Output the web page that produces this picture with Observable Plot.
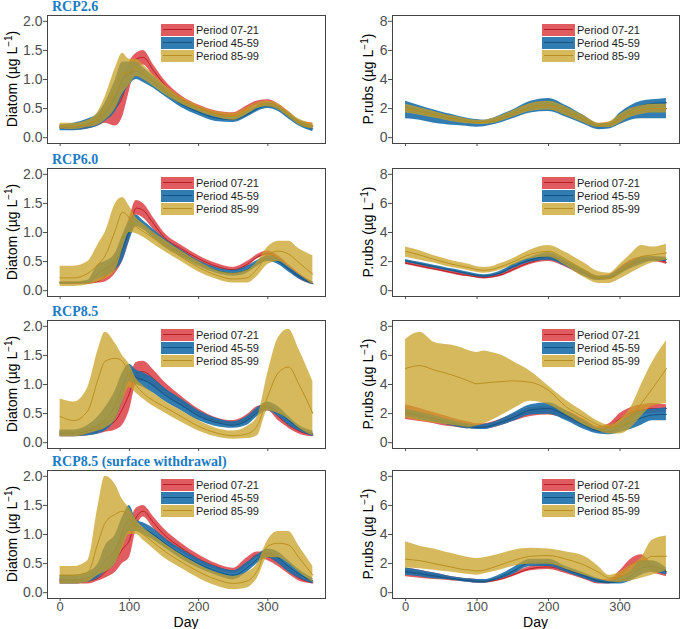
<!DOCTYPE html>
<html><head><meta charset="utf-8">
<script src="https://cdn.jsdelivr.net/npm/d3@7"></script>
<script src="https://cdn.jsdelivr.net/npm/@observablehq/plot@0.6"></script>
<style>
body{margin:0;background:#fff;}
#chart{position:relative;width:685px;height:629px;font-family:"Liberation Sans",Arial,sans-serif;overflow:hidden;}
.panel{position:absolute;}
.title{position:absolute;font-family:"Liberation Serif","Times New Roman",serif;font-weight:bold;font-size:14px;color:#1B7BC3;line-height:14px;white-space:nowrap;}
.legend{position:absolute;font-size:11px;color:#1a1a1a;}
.lrow{display:flex;align-items:center;height:13px;}
.sw{position:relative;width:33px;height:12px;margin-right:2px;}
.sw i{position:absolute;left:2px;right:2px;top:5.5px;height:1px;}
</style></head>
<body><div id="chart"></div>
<script>
// ---- day grid (shared by all series) ----
const days = [0,20,40,55,65,80,90,100,110,120,135,150,175,200,225,250,270,285,300,315,330,345,365];
const periods = ["Period 07-21","Period 45-59","Period 85-99"];
const titles = ["RCP2.6","RCP6.0","RCP8.5","RCP8.5 (surface withdrawal)"];
const diatomTicks = [0,0.5,1,1.5,2];
const prubsTicks = [0,2,4,6,8];
const dayTicks = [0,100,200,300];

// ---- RCP2.6 Diatom ----
const dia26_a_lo  = [0.15,0.13,0.15,0.2,0.25,0.2,0.35,0.8,1.2,1.25,1.05,0.85,0.62,0.48,0.38,0.35,0.45,0.55,0.56,0.5,0.35,0.22,0.15];
const dia26_a_mid = [0.18,0.16,0.2,0.28,0.38,0.5,0.7,1.1,1.35,1.38,1.15,0.92,0.67,0.52,0.42,0.39,0.5,0.59,0.6,0.54,0.4,0.26,0.2];
const dia26_a_hi  = [0.22,0.2,0.25,0.38,0.5,0.75,1.0,1.3,1.45,1.5,1.25,1.0,0.72,0.56,0.46,0.43,0.55,0.63,0.65,0.58,0.45,0.3,0.25];
const dia26_b_lo  = [0.12,0.12,0.15,0.2,0.28,0.45,0.7,0.9,1.0,0.95,0.85,0.72,0.52,0.38,0.28,0.26,0.35,0.45,0.5,0.45,0.32,0.2,0.1];
const dia26_b_mid = [0.17,0.18,0.22,0.3,0.42,0.7,1.0,1.1,1.15,1.08,0.95,0.8,0.58,0.44,0.34,0.31,0.4,0.5,0.55,0.5,0.37,0.25,0.15];
const dia26_b_hi  = [0.22,0.25,0.32,0.42,0.6,1.0,1.3,1.3,1.3,1.2,1.05,0.88,0.65,0.5,0.4,0.36,0.45,0.55,0.6,0.55,0.42,0.3,0.2];
const dia26_c_lo  = [0.15,0.14,0.18,0.22,0.3,0.5,0.75,0.9,1.05,1.0,0.88,0.75,0.58,0.45,0.35,0.3,0.4,0.5,0.53,0.48,0.35,0.22,0.15];
const dia26_c_mid = [0.2,0.2,0.24,0.33,0.5,0.85,1.1,1.12,1.2,1.12,0.98,0.83,0.64,0.5,0.4,0.36,0.46,0.55,0.58,0.53,0.4,0.27,0.2];
const dia26_c_hi  = [0.25,0.25,0.3,0.45,0.7,1.2,1.45,1.35,1.35,1.25,1.08,0.92,0.7,0.55,0.45,0.42,0.52,0.6,0.63,0.58,0.45,0.32,0.25];

// ---- RCP2.6 P.rubs ----
const pr26_a_lo  = [1.8,1.6,1.4,1.25,1.15,1.05,1.0,0.95,0.95,1.0,1.2,1.45,1.85,1.95,1.55,1.05,0.72,0.75,1.05,1.45,1.65,1.75,1.75];
const pr26_a_mid = [2.0,1.8,1.57,1.4,1.3,1.17,1.1,1.05,1.05,1.12,1.35,1.62,2.07,2.2,1.8,1.25,0.85,0.9,1.3,1.7,1.9,2.0,2.0];
const pr26_a_hi  = [2.2,2.0,1.75,1.55,1.45,1.3,1.2,1.15,1.15,1.25,1.5,1.8,2.3,2.45,2.05,1.45,0.98,1.05,1.55,1.95,2.15,2.25,2.25];
const pr26_b_lo  = [1.3,1.2,1.0,0.9,0.85,0.8,0.75,0.72,0.75,0.85,1.05,1.3,1.7,1.8,1.4,0.9,0.55,0.6,0.9,1.2,1.3,1.3,1.3];
const pr26_b_mid = [2.1,1.85,1.6,1.45,1.35,1.2,1.1,1.05,1.05,1.1,1.35,1.6,2.1,2.25,1.8,1.2,0.75,0.85,1.4,1.9,2.2,2.35,2.4];
const pr26_b_hi  = [2.5,2.2,1.9,1.7,1.6,1.4,1.3,1.25,1.2,1.3,1.6,1.9,2.5,2.7,2.2,1.5,0.95,1.0,1.7,2.2,2.5,2.6,2.7];
const pr26_c_lo  = [1.7,1.55,1.35,1.2,1.1,1.0,0.95,0.9,0.9,0.95,1.15,1.4,1.8,1.9,1.5,1.0,0.7,0.7,1.0,1.4,1.6,1.7,1.7];
const pr26_c_mid = [2.0,1.8,1.57,1.4,1.3,1.17,1.1,1.05,1.05,1.12,1.35,1.62,2.07,2.2,1.8,1.25,0.85,0.9,1.3,1.7,1.9,2.0,2.0];
const pr26_c_hi  = [2.3,2.05,1.8,1.6,1.5,1.35,1.25,1.2,1.2,1.3,1.55,1.85,2.35,2.5,2.1,1.5,1.0,1.1,1.6,2.0,2.2,2.3,2.3];

// ---- RCP6.0 Diatom ----
const dia60_a_lo  = [0.12,0.12,0.12,0.13,0.15,0.3,0.5,0.85,1.3,1.25,1.05,0.85,0.65,0.5,0.38,0.33,0.4,0.55,0.6,0.5,0.35,0.2,0.1];
const dia60_a_mid = [0.13,0.13,0.13,0.16,0.25,0.45,0.7,1.05,1.42,1.38,1.15,0.92,0.72,0.55,0.42,0.36,0.45,0.58,0.64,0.55,0.4,0.25,0.12];
const dia60_a_hi  = [0.15,0.15,0.15,0.2,0.35,0.6,0.9,1.25,1.55,1.5,1.25,1.0,0.78,0.6,0.47,0.4,0.5,0.62,0.68,0.6,0.45,0.3,0.15];
const dia60_b_lo  = [0.12,0.12,0.12,0.2,0.25,0.35,0.5,0.85,1.1,1.05,0.9,0.75,0.58,0.42,0.3,0.25,0.3,0.42,0.5,0.45,0.32,0.2,0.1];
const dia60_b_mid = [0.13,0.13,0.15,0.3,0.38,0.5,0.72,1.02,1.2,1.12,0.98,0.82,0.64,0.47,0.35,0.3,0.36,0.47,0.55,0.5,0.37,0.24,0.12];
const dia60_b_hi  = [0.15,0.15,0.18,0.45,0.5,0.65,0.95,1.2,1.3,1.2,1.05,0.9,0.7,0.52,0.4,0.35,0.42,0.52,0.6,0.55,0.42,0.28,0.15];
const dia60_c_lo  = [0.07,0.07,0.1,0.15,0.2,0.35,0.7,1.0,0.98,0.92,0.8,0.68,0.5,0.32,0.2,0.13,0.13,0.25,0.45,0.5,0.4,0.28,0.1];
const dia60_c_mid = [0.22,0.22,0.3,0.45,0.6,1.05,1.35,1.25,1.1,1.02,0.9,0.78,0.58,0.4,0.27,0.2,0.22,0.38,0.62,0.68,0.63,0.48,0.28];
const dia60_c_hi  = [0.42,0.42,0.5,0.8,1.0,1.5,1.6,1.45,1.25,1.15,1.0,0.88,0.68,0.5,0.35,0.3,0.35,0.5,0.75,0.85,0.85,0.72,0.6];

// ---- RCP6.0 P.rubs ----
const pr60_a_lo  = [1.8,1.6,1.4,1.25,1.15,1.0,0.95,0.85,0.8,0.85,1.0,1.3,1.8,2.0,1.6,1.0,0.7,0.8,1.2,1.6,1.9,2.0,1.8];
const pr60_a_mid = [1.9,1.7,1.5,1.35,1.25,1.1,1.02,0.95,0.9,0.95,1.12,1.45,1.95,2.2,1.8,1.2,0.85,0.95,1.4,1.85,2.1,2.15,1.95];
const pr60_a_hi  = [2.0,1.8,1.6,1.45,1.35,1.2,1.1,1.05,1.0,1.05,1.25,1.6,2.1,2.4,2.0,1.4,1.0,1.1,1.6,2.1,2.3,2.3,2.1];
const pr60_b_lo  = [1.95,1.75,1.55,1.4,1.3,1.15,1.05,0.95,0.9,0.95,1.15,1.5,1.95,2.1,1.65,1.0,0.7,0.75,1.1,1.5,1.8,2.0,2.0];
const pr60_b_mid = [2.05,1.85,1.65,1.5,1.4,1.25,1.15,1.05,1.0,1.05,1.27,1.65,2.12,2.35,1.87,1.22,0.85,0.9,1.3,1.75,2.05,2.17,2.15];
const pr60_b_hi  = [2.15,1.95,1.75,1.6,1.5,1.35,1.25,1.15,1.1,1.15,1.4,1.8,2.3,2.6,2.1,1.45,1.0,1.05,1.5,2.0,2.3,2.35,2.3];
const pr60_c_lo  = [2.3,2.1,1.9,1.7,1.6,1.45,1.35,1.25,1.2,1.25,1.45,1.75,2.2,2.3,1.7,0.9,0.5,0.5,0.8,1.2,1.6,1.9,2.1];
const pr60_c_mid = [2.7,2.45,2.15,1.95,1.82,1.67,1.57,1.45,1.4,1.45,1.67,1.97,2.5,2.7,2.15,1.4,0.9,0.85,1.3,1.85,2.35,2.45,2.6];
const pr60_c_hi  = [3.0,2.75,2.4,2.2,2.05,1.9,1.8,1.65,1.6,1.65,1.9,2.2,2.8,3.1,2.6,1.9,1.3,1.2,1.8,2.5,3.1,3.0,3.2];

// ---- RCP8.5 Diatom ----
const dia85_a_lo  = [0.1,0.1,0.12,0.15,0.18,0.22,0.3,0.55,1.0,1.05,0.95,0.82,0.62,0.45,0.33,0.3,0.35,0.5,0.55,0.38,0.25,0.15,0.1];
const dia85_a_mid = [0.15,0.15,0.18,0.22,0.28,0.38,0.58,0.85,1.2,1.22,1.1,0.93,0.71,0.51,0.38,0.34,0.42,0.56,0.6,0.45,0.3,0.2,0.13];
const dia85_a_hi  = [0.2,0.2,0.25,0.3,0.38,0.55,0.85,1.1,1.38,1.4,1.25,1.05,0.8,0.58,0.43,0.38,0.48,0.62,0.65,0.52,0.35,0.25,0.16];
const dia85_b_lo  = [0.1,0.1,0.12,0.15,0.2,0.4,0.7,1.05,1.0,0.95,0.85,0.72,0.55,0.38,0.28,0.25,0.3,0.45,0.55,0.45,0.3,0.2,0.1];
const dia85_b_mid = [0.16,0.16,0.2,0.3,0.4,0.65,0.95,1.2,1.12,1.08,0.98,0.83,0.65,0.46,0.35,0.3,0.38,0.52,0.62,0.53,0.38,0.25,0.15];
const dia85_b_hi  = [0.22,0.22,0.3,0.45,0.6,0.9,1.2,1.35,1.25,1.2,1.1,0.95,0.75,0.55,0.42,0.36,0.45,0.6,0.7,0.62,0.45,0.3,0.2];
const dia85_c_lo  = [0.1,0.1,0.15,0.2,0.25,0.4,0.7,0.95,0.85,0.75,0.62,0.52,0.35,0.2,0.1,0.06,0.07,0.12,0.55,0.5,0.4,0.25,0.12];
const dia85_c_mid = [0.45,0.38,0.55,1.1,1.4,1.45,1.4,1.15,0.98,0.85,0.72,0.62,0.45,0.28,0.17,0.12,0.15,0.3,0.8,1.2,1.3,1.0,0.5];
const dia85_c_hi  = [0.75,0.7,0.95,1.6,1.9,1.7,1.5,1.35,1.1,0.98,0.85,0.72,0.55,0.38,0.25,0.2,0.28,0.45,1.2,1.8,1.95,1.6,1.05];

// ---- RCP8.5 P.rubs ----
const pr85_a_lo  = [1.6,1.45,1.3,1.15,1.1,1.0,0.95,0.95,0.95,1.0,1.2,1.45,1.8,1.9,1.6,1.1,0.75,0.9,1.3,1.7,1.9,2.0,2.1];
const pr85_a_mid = [2.1,1.9,1.67,1.5,1.4,1.25,1.17,1.12,1.12,1.2,1.42,1.7,2.1,2.2,1.9,1.35,0.92,1.1,1.65,2.05,2.25,2.35,2.35];
const pr85_a_hi  = [2.6,2.35,2.05,1.85,1.7,1.5,1.4,1.3,1.3,1.4,1.65,1.95,2.4,2.5,2.2,1.6,1.1,1.3,2.0,2.4,2.6,2.7,2.6];
const pr85_b_lo  = [1.8,1.6,1.4,1.25,1.15,1.0,0.95,0.9,0.9,1.0,1.2,1.45,1.9,1.95,1.5,0.9,0.6,0.55,0.7,0.9,1.2,1.5,1.5];
const pr85_b_mid = [2.05,1.85,1.62,1.45,1.35,1.17,1.1,1.05,1.07,1.17,1.42,1.72,2.25,2.35,1.85,1.2,0.8,0.75,1.05,1.4,1.7,1.9,1.95];
const pr85_b_hi  = [2.3,2.1,1.85,1.65,1.55,1.35,1.25,1.2,1.25,1.35,1.65,2.0,2.6,2.75,2.2,1.5,1.0,0.95,1.4,1.9,2.2,2.3,2.4];
const pr85_c_lo  = [1.7,1.5,1.35,1.25,1.2,1.1,1.05,1.15,1.3,1.5,1.9,2.3,2.85,2.6,1.9,1.2,0.8,0.6,0.6,1.0,1.8,2.5,2.7];
const pr85_c_mid = [5.1,5.3,5.0,4.8,4.65,4.4,4.2,4.05,4.1,4.15,4.2,4.25,4.15,3.6,2.45,1.75,1.2,1.05,1.2,1.6,2.7,3.7,5.1];
const pr85_c_hi  = [7.1,7.6,6.9,6.75,6.7,6.5,6.3,6.2,6.3,6.2,6.0,5.6,4.9,3.9,2.9,2.1,1.45,1.2,1.6,2.4,4.0,5.5,7.0];

// ---- RCP8.5 (surface withdrawal) Diatom ----
const dia85s_a_lo  = [0.15,0.15,0.15,0.2,0.25,0.35,0.5,0.6,1.1,1.3,1.1,0.9,0.7,0.52,0.4,0.33,0.45,0.6,0.55,0.45,0.32,0.2,0.15];
const dia85s_a_mid = [0.2,0.18,0.2,0.25,0.35,0.55,0.75,0.9,1.3,1.4,1.2,1.0,0.77,0.58,0.45,0.37,0.52,0.65,0.62,0.52,0.38,0.25,0.17];
const dia85s_a_hi  = [0.25,0.22,0.25,0.3,0.45,0.75,1.0,1.2,1.45,1.5,1.3,1.1,0.85,0.65,0.5,0.42,0.6,0.7,0.7,0.6,0.45,0.3,0.2];
const dia85s_b_lo  = [0.15,0.15,0.18,0.25,0.35,0.5,0.8,1.05,1.05,1.0,0.9,0.78,0.58,0.42,0.3,0.22,0.35,0.5,0.6,0.5,0.35,0.25,0.15];
const dia85s_b_mid = [0.22,0.22,0.26,0.37,0.55,0.75,1.05,1.25,1.15,1.1,1.0,0.86,0.66,0.5,0.37,0.3,0.43,0.58,0.68,0.6,0.45,0.32,0.2];
const dia85s_b_hi  = [0.3,0.3,0.35,0.5,0.8,1.0,1.3,1.5,1.25,1.2,1.1,0.95,0.75,0.58,0.45,0.38,0.52,0.65,0.75,0.7,0.55,0.4,0.25];
const dia85s_c_lo  = [0.15,0.15,0.18,0.3,0.35,0.5,0.75,1.0,1.0,0.9,0.75,0.6,0.42,0.25,0.12,0.05,0.08,0.25,0.6,0.6,0.5,0.35,0.18];
const dia85s_c_mid = [0.3,0.3,0.35,0.87,1.2,1.35,1.4,1.3,1.1,1.0,0.86,0.72,0.53,0.36,0.23,0.16,0.2,0.38,0.8,0.85,0.82,0.6,0.3];
const dia85s_c_hi  = [0.45,0.45,0.55,1.5,2.0,1.85,1.6,1.45,1.25,1.12,0.98,0.85,0.65,0.48,0.35,0.28,0.35,0.5,0.9,1.05,1.05,0.8,0.45];

// ---- RCP8.5 (surface withdrawal) P.rubs ----
const pr85s_a_lo  = [1.1,1.0,0.9,0.85,0.8,0.75,0.7,0.65,0.65,0.7,0.85,1.1,1.5,1.6,1.3,0.9,0.6,0.6,0.9,1.5,1.8,1.4,1.1];
const pr85s_a_mid = [1.4,1.27,1.12,1.02,0.95,0.87,0.82,0.77,0.75,0.8,0.97,1.22,1.65,1.77,1.47,1.07,0.75,0.75,1.2,1.9,2.2,1.7,1.35];
const pr85s_a_hi  = [1.7,1.55,1.35,1.2,1.1,1.0,0.95,0.9,0.85,0.9,1.1,1.35,1.8,1.95,1.65,1.25,0.9,0.9,1.5,2.3,2.6,2.0,1.6];
const pr85s_b_lo  = [1.2,1.1,0.95,0.9,0.85,0.75,0.7,0.65,0.65,0.75,0.95,1.25,1.8,1.8,1.4,0.95,0.65,0.6,0.6,0.8,1.2,1.4,1.2];
const pr85s_b_mid = [1.45,1.32,1.15,1.05,0.97,0.87,0.82,0.77,0.77,0.87,1.12,1.47,2.05,2.05,1.6,1.15,0.8,0.7,0.8,1.15,1.7,1.8,1.45];
const pr85s_b_hi  = [1.7,1.55,1.35,1.2,1.1,1.0,0.95,0.9,0.9,1.0,1.3,1.7,2.3,2.3,1.8,1.35,0.95,0.8,1.0,1.5,2.2,2.2,1.7];
const pr85s_c_lo  = [1.7,1.65,1.55,1.45,1.4,1.3,1.25,1.2,1.3,1.4,1.6,1.8,1.95,1.95,1.6,1.2,0.9,0.75,0.7,0.8,1.0,1.2,1.5];
const pr85s_c_mid = [2.3,2.2,2.0,1.85,1.75,1.6,1.55,1.5,1.55,1.7,1.95,2.2,2.5,2.55,2.3,1.9,1.4,1.0,1.1,1.4,2.0,2.5,2.5];
const pr85s_c_hi  = [3.5,3.2,3.0,2.8,2.7,2.5,2.4,2.35,2.4,2.5,2.7,2.9,3.05,3.0,2.8,2.5,1.8,1.2,1.4,1.9,2.4,3.6,3.9];

// ---- styling ----
const fills = ["#D7262B","#1B6FA8","#C9A227"];
const fillOps = [0.75,0.9,0.75];
const lineCols = ["#B81E25","#14537F","#B8901F"];

const panels = [
  {row:0,col:0,kind:"d",s:[[dia26_a_lo,dia26_a_mid,dia26_a_hi],[dia26_b_lo,dia26_b_mid,dia26_b_hi],[dia26_c_lo,dia26_c_mid,dia26_c_hi]]},
  {row:0,col:1,kind:"p",s:[[pr26_a_lo,pr26_a_mid,pr26_a_hi],[pr26_b_lo,pr26_b_mid,pr26_b_hi],[pr26_c_lo,pr26_c_mid,pr26_c_hi]]},
  {row:1,col:0,kind:"d",s:[[dia60_a_lo,dia60_a_mid,dia60_a_hi],[dia60_b_lo,dia60_b_mid,dia60_b_hi],[dia60_c_lo,dia60_c_mid,dia60_c_hi]]},
  {row:1,col:1,kind:"p",s:[[pr60_a_lo,pr60_a_mid,pr60_a_hi],[pr60_b_lo,pr60_b_mid,pr60_b_hi],[pr60_c_lo,pr60_c_mid,pr60_c_hi]]},
  {row:2,col:0,kind:"d",s:[[dia85_a_lo,dia85_a_mid,dia85_a_hi],[dia85_b_lo,dia85_b_mid,dia85_b_hi],[dia85_c_lo,dia85_c_mid,dia85_c_hi]]},
  {row:2,col:1,kind:"p",s:[[pr85_a_lo,pr85_a_mid,pr85_a_hi],[pr85_b_lo,pr85_b_mid,pr85_b_hi],[pr85_c_lo,pr85_c_mid,pr85_c_hi]]},
  {row:3,col:0,kind:"d",s:[[dia85s_a_lo,dia85s_a_mid,dia85s_a_hi],[dia85s_b_lo,dia85s_b_mid,dia85s_b_hi],[dia85s_c_lo,dia85s_c_mid,dia85s_c_hi]]},
  {row:3,col:1,kind:"p",s:[[pr85s_a_lo,pr85s_a_mid,pr85s_a_hi],[pr85s_b_lo,pr85s_b_mid,pr85s_b_hi],[pr85s_c_lo,pr85s_c_mid,pr85s_c_hi]]}
];

const frameTops = [15,168,320,470];
const FH = 128, MT = 6;
const root = document.getElementById("chart");

function band(lo, mid, hi){ return days.map((d,i)=>({day:d, lo:lo[i], mid:mid[i], hi:hi[i]})); }

// titles
titles.forEach((t,r)=>{
  const el = document.createElement("div");
  el.className = "title";
  el.textContent = t;
  el.style.left = "52px";
  el.style.top = (frameTops[r]-15)+"px";
  root.appendChild(el);
});

panels.forEach(p=>{
  const left = p.col===0;
  const W = left ? 342 : 343;
  const ml = left ? 47 : 50;
  const mr = left ? 17 : 6;
  const mb = p.row===3 ? 31 : 8;
  const dia = p.kind==="d";
  const marks = [];
  p.s.forEach((s,k)=>{
    const data = band(s[0],s[1],s[2]);
    marks.push(Plot.areaY(data,{x:"day",y1:"lo",y2:"hi",fill:fills[k],fillOpacity:fillOps[k],curve:"monotone-x"}));
    marks.push(Plot.lineY(data,{x:"day",y:"mid",stroke:lineCols[k],strokeWidth:1,curve:"monotone-x"}));
  });
  marks.push(Plot.frame({stroke:"#444",strokeWidth:1}));
  const chart = Plot.plot({
    width:W, height:MT+FH+mb,
    marginLeft:ml, marginRight:mr, marginTop:MT, marginBottom:mb,
    style:{fontSize:"14px",fontFamily:"'Liberation Sans',Arial,sans-serif",color:"#4D4D4D",background:"transparent",overflow:"visible"},
    x:{domain:[-18.25,383.25],ticks:dayTicks,tickSize:3,tickPadding:0,label:null,
       tickFormat: p.row===3 ? (d=>String(d)) : (()=>"")},
    y:{domain: dia?[-0.1,2.1]:[-0.4,8.4], ticks: dia?diatomTicks:prubsTicks, tickSize:4, tickPadding:1, label:null,
       tickFormat: dia? d3.format(".1f") : d3.format("d")},
    marks
  });
  const svg = d3.select(chart);
  if (p.row===3) {
    svg.selectAll("[aria-label='x-axis tick label'] text, g[aria-label='x-axis'] text").style("font-size","13px");
  }
  const cx = left ? 12 : 26;
  const cy = MT + FH/2;
  const t = svg.append("text")
    .attr("transform",`translate(${cx},${cy}) rotate(-90)`)
    .attr("text-anchor","middle").attr("dy","0.35em")
    .attr("fill","#000").style("font-size","14px");
  t.append("tspan").text(dia ? "Diatom (µg L" : "P.rubs (µg L");
  t.append("tspan").attr("baseline-shift","super").style("font-size","10px").text("−1");
  t.append("tspan").text(")");
  if (p.row===3){
    svg.append("text")
      .attr("x", ml + (W-ml-mr)/2).attr("y", MT+FH+29)
      .attr("text-anchor","middle").attr("fill","#000").style("font-size","14px").text("Day");
  }
  const wrap = document.createElement("div");
  wrap.className = "panel";
  wrap.style.left = (left?0:342)+"px";
  wrap.style.top = (frameTops[p.row]-MT)+"px";
  wrap.appendChild(chart);
  root.appendChild(wrap);

  // legend
  const lg = document.createElement("div");
  lg.className = "legend";
  lg.style.left = (left?161:542)+"px";
  lg.style.top = (frameTops[p.row]+8)+"px";
  periods.forEach((name,k)=>{
    const row = document.createElement("div");
    row.className = "lrow";
    const sw = document.createElement("div");
    sw.className = "sw";
    sw.style.backgroundColor = d3.color(fills[k]).copy({opacity:fillOps[k]}).formatRgb();
    const ln = document.createElement("i");
    ln.style.background = lineCols[k];
    sw.appendChild(ln);
    const tx = document.createElement("span");
    tx.textContent = name;
    row.appendChild(sw); row.appendChild(tx);
    lg.appendChild(row);
  });
  root.appendChild(lg);
});
</script></body></html>
